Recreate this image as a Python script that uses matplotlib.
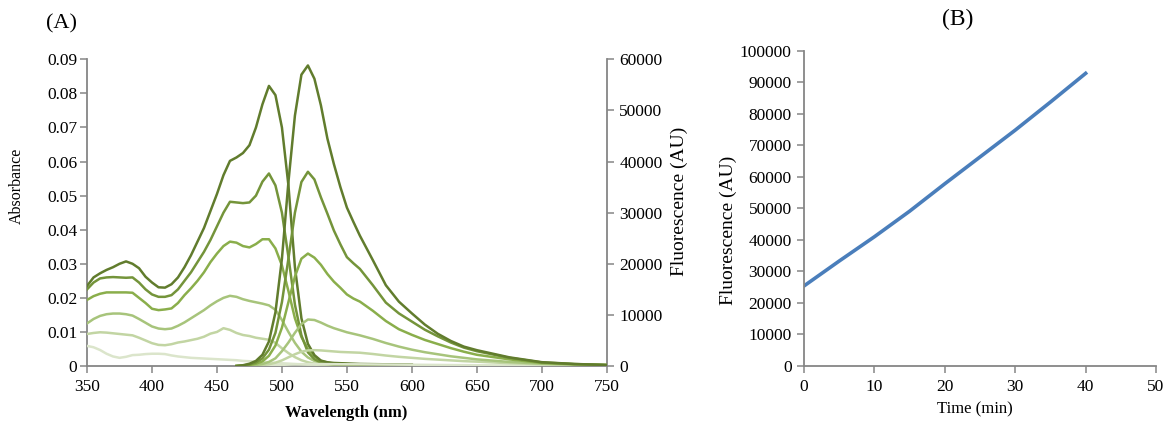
import matplotlib.pyplot as plt

plt.rcParams['font.family'] = ['Liberation Serif', 'DejaVu Serif']
plt.rcParams['font.size'] = 12

# absorbance spectra (left axis)
abs_wl = [350, 355, 360, 365, 370, 375, 380, 385, 390, 395, 400, 405, 410, 415, 420,
          425, 430, 435, 440, 445, 450, 455, 460, 465, 470, 475, 480, 485, 490, 495,
          500, 505, 510, 515, 520, 525, 530, 535, 540, 560, 580, 600]
abs_1 = [0.0235, 0.0260, 0.0272, 0.0282, 0.0290, 0.0300, 0.0307, 0.0300, 0.0287, 0.0262,
         0.0245, 0.0231, 0.0230, 0.0240, 0.0260, 0.0290, 0.0325, 0.0365, 0.0405, 0.0455,
         0.0505, 0.0560, 0.0602, 0.0612, 0.0625, 0.0648, 0.0700, 0.0768, 0.0822, 0.0795,
         0.0700, 0.0530, 0.0290, 0.0140, 0.0065, 0.0032, 0.0016, 0.0011, 0.0009, 0.0006,
         0.0005, 0.0004]
abs_2 = [0.0225, 0.0245, 0.0257, 0.0260, 0.0261, 0.0260, 0.0259, 0.0260, 0.0245, 0.0225,
         0.0210, 0.0203, 0.0203, 0.0208, 0.0225, 0.0250, 0.0275, 0.0305, 0.0335, 0.0370,
         0.0410, 0.0450, 0.0482, 0.0480, 0.0478, 0.0480, 0.0500, 0.0541, 0.0565, 0.0530,
         0.0450, 0.0320, 0.0180, 0.0090, 0.0040, 0.0020, 0.0010, 0.0007, 0.0005, 0.0004,
         0.0003, 0.0003]
abs_3 = [0.0194, 0.0205, 0.0212, 0.0216, 0.0216, 0.0216, 0.0216, 0.0215, 0.0200, 0.0185,
         0.0168, 0.0164, 0.0166, 0.0169, 0.0185, 0.0208, 0.0228, 0.0250, 0.0275, 0.0305,
         0.0330, 0.0352, 0.0365, 0.0362, 0.0352, 0.0348, 0.0358, 0.0372, 0.0372, 0.0345,
         0.0295, 0.0220, 0.0140, 0.0085, 0.0050, 0.0028, 0.0015, 0.0010, 0.0007, 0.0004,
         0.0003, 0.0002]
abs_4 = [0.0125, 0.0138, 0.0147, 0.0152, 0.0154, 0.0154, 0.0152, 0.0148, 0.0138, 0.0127,
         0.0116, 0.0110, 0.0108, 0.0110, 0.0118, 0.0128, 0.0140, 0.0152, 0.0164, 0.0178,
         0.0190, 0.0200, 0.0206, 0.0203, 0.0196, 0.0191, 0.0187, 0.0183, 0.0178, 0.0165,
         0.0135, 0.0100, 0.0068, 0.0042, 0.0025, 0.0015, 0.0009, 0.0006, 0.0004, 0.0003,
         0.0002, 0.0002]
abs_5 = [0.0094, 0.0097, 0.0099, 0.0098, 0.0096, 0.0094, 0.0092, 0.0090, 0.0083, 0.0075,
         0.0067, 0.0062, 0.0061, 0.0064, 0.0069, 0.0072, 0.0076, 0.0080, 0.0086, 0.0095,
         0.0100, 0.0111, 0.0106, 0.0097, 0.0091, 0.0088, 0.0083, 0.0080, 0.0077, 0.0068,
         0.0052, 0.0038, 0.0026, 0.0017, 0.0011, 0.0007, 0.0005, 0.0004, 0.0003, 0.0002,
         0.0002, 0.0001]
abs_6 = [0.0059, 0.0055, 0.0047, 0.0036, 0.0028, 0.0024, 0.0027, 0.0032, 0.0033, 0.0035,
         0.0036, 0.0036, 0.0035, 0.0031, 0.0028, 0.0026, 0.0024, 0.0023, 0.0022, 0.0021,
         0.0020, 0.0019, 0.0018, 0.0017, 0.0015, 0.0014, 0.0013, 0.0012, 0.0011, 0.0009,
         0.0008, 0.0007, 0.0006, 0.0005, 0.0004, 0.0004, 0.0003, 0.0003, 0.0003, 0.0002,
         0.0002, 0.0001]

# emission spectra (right axis)
em_wl = [465, 470, 475, 480, 485, 490, 495, 500, 505, 510, 515, 520, 525, 530, 535,
         540, 545, 550, 555, 560, 570, 580, 590, 600, 610, 620, 630, 640, 650, 675,
         700, 725, 750]
em_1 = [0, 150, 450, 1000, 2200, 4800, 10500, 21000, 36000, 49000, 57000, 58800, 56200,
        51000, 44500, 39500, 35000, 31000, 28200, 25500, 20700, 15800, 12600, 10300, 8100,
        6300, 4900, 3800, 3100, 1700, 750, 400, 200]
em_2 = [0, 100, 300, 700, 1500, 3200, 6500, 12500, 21000, 30000, 36000, 38000, 36500,
        33000, 29800, 26500, 23800, 21300, 20100, 19000, 15800, 12400, 10300, 8700, 7100,
        5800, 4600, 3600, 2900, 1600, 700, 380, 200]
em_3 = [0, 60, 180, 450, 900, 2000, 4000, 7500, 12500, 17500, 21000, 22000, 21200,
        19800, 18000, 16500, 15300, 14000, 13200, 12600, 10800, 8800, 7200, 6100, 5100,
        4300, 3500, 2800, 2200, 1300, 600, 350, 200]
em_4 = [0, 30, 80, 200, 400, 800, 1500, 2900, 4600, 6500, 8200, 9100, 9000,
        8500, 7900, 7400, 7000, 6600, 6300, 6000, 5300, 4500, 3800, 3200, 2700,
        2300, 1900, 1600, 1300, 800, 450, 300, 180]
em_5 = [0, 15, 40, 90, 180, 350, 650, 1100, 1700, 2300, 2800, 3050, 3100,
        3050, 2950, 2850, 2750, 2700, 2650, 2600, 2350, 2050, 1800, 1600, 1400,
        1250, 1100, 950, 850, 550, 350, 250, 150]
em_6 = [0, 10, 20, 40, 70, 110, 160, 220, 280, 330, 360, 380, 380,
        380, 370, 360, 350, 340, 335, 330, 310, 290, 270, 250, 230,
        210, 190, 170, 150, 120, 90, 70, 50]

# panel B
time_min = [0, 5, 10, 15, 20, 25, 30, 35, 40]
fluor_t = [25400, 33300, 41000, 49100, 57800, 66300, 74800, 83700, 92800]

greens = ['#617c2d', '#74943a', '#8aae4b', '#a7c47b', '#c2d5a3', '#dbe5cb']
abs_sets = [abs_1, abs_2, abs_3, abs_4, abs_5, abs_6]
em_sets = [em_1, em_2, em_3, em_4, em_5, em_6]
spine_c = '#868686'

fig = plt.figure(figsize=(11.67, 4.25), dpi=100)

ax = fig.add_axes([0.0746, 0.1388, 0.4453, 0.7216])
ax2 = ax.twinx()

for i in range(5, -1, -1):
    ax.plot(abs_wl, abs_sets[i], color=greens[i], lw=1.8, zorder=3 + (5 - i))
    ax2.plot(em_wl, em_sets[i], color=greens[i], lw=1.8, zorder=3 + (5 - i))

ax.set_xlim(350, 750)
ax.set_ylim(0, 0.09)
ax.set_xticks(range(350, 751, 50))
ax.set_yticks([i * 0.01 for i in range(10)])
ax.set_yticklabels(['0'] + ['%.2f' % (i * 0.01) for i in range(1, 10)])
ax2.set_ylim(0, 60000)
ax2.set_yticks(range(0, 60001, 10000))

ax.set_xlabel('Wavelength (nm)', fontweight='bold', fontsize=12)
ax.xaxis.set_label_coords(0.498, -0.127)
ax.set_ylabel('Absorbance', fontsize=11.5)
ax.yaxis.set_label_coords(-0.119, 0.587)
ax2.set_ylabel('Fluorescence (AU)', fontsize=14)
ax2.yaxis.set_label_coords(1.124, 0.538)

for a in (ax, ax2):
    a.spines['top'].set_visible(False)
    for s in ('left', 'right', 'bottom'):
        a.spines[s].set_color(spine_c)
        a.spines[s].set_linewidth(1.3)
    a.tick_params(color=spine_c, length=5, width=1.1, labelsize=12.5)
ax.spines['right'].set_visible(False)
ax2.spines['left'].set_visible(False)
ax2.spines['bottom'].set_visible(False)
ax.tick_params(axis='y', pad=2)
ax.tick_params(axis='x', pad=4)
ax2.tick_params(axis='y', pad=4)

fig.text(0.053, 0.945, '(A)', fontsize=16, va='center', ha='center')

# panel B
bx = fig.add_axes([0.689, 0.1388, 0.3016, 0.742])
bx.plot(time_min, fluor_t, color='#4a7ebb', lw=2.6)
bx.set_xlim(0, 50)
bx.set_ylim(0, 100000)
bx.set_xticks(range(0, 51, 10))
bx.set_yticks(range(0, 100001, 10000))
bx.set_xlabel('Time (min)', fontsize=12)
bx.xaxis.set_label_coords(0.486, -0.111)
bx.set_ylabel('Fluorescence (AU)', fontsize=14)
bx.yaxis.set_label_coords(-0.19, 0.431)
bx.spines['top'].set_visible(False)
bx.spines['right'].set_visible(False)
for s in ('left', 'bottom'):
    bx.spines[s].set_color(spine_c)
    bx.spines[s].set_linewidth(1.3)
bx.tick_params(color=spine_c, length=5, width=1.1, labelsize=12.5, pad=4)

fig.text(0.821, 0.955, '(B)', fontsize=17, va='center', ha='center')

fig.savefig('out.png', dpi=100)
